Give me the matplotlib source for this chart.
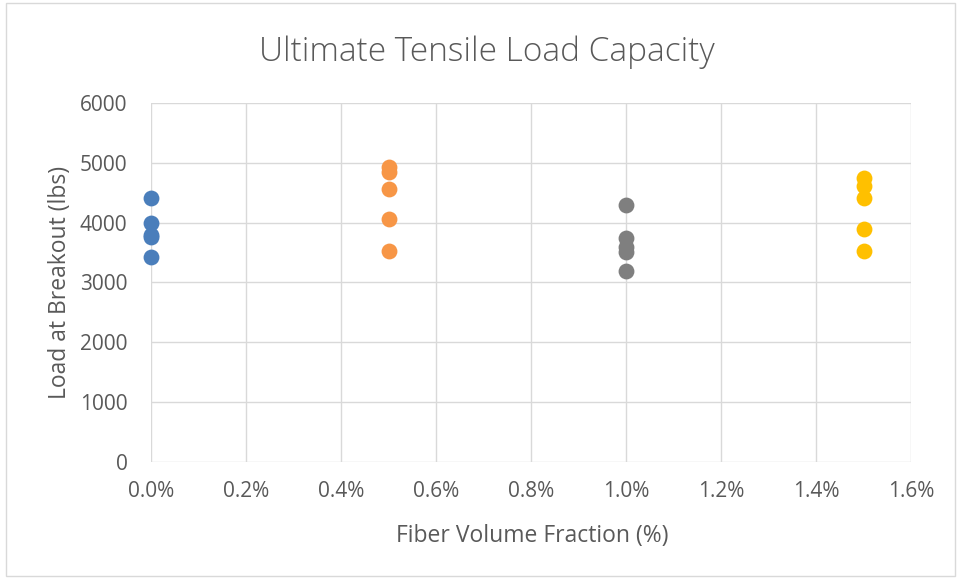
import matplotlib.pyplot as plt
from matplotlib.patches import Rectangle
from matplotlib.ticker import FuncFormatter

plt.rcParams['font.family'] = ['Open Sans', 'DejaVu Sans']

# fiber volume fraction (%) and load at breakout (lbs) per group
frac_0 = [0.0] * 5
load_0 = [4420, 4000, 3790, 3760, 3420]
frac_05 = [0.5] * 5
load_05 = [4930, 4850, 4560, 4060, 3530]
frac_10 = [1.0] * 5
load_10 = [4290, 3740, 3600, 3510, 3190]
frac_15 = [1.5] * 5
load_15 = [4740, 4610, 4420, 3890, 3530]

colors = ['#4A7EBB', '#F79646', '#7F7F7F', '#FFC000']
text_col = '#595959'

fig = plt.figure(figsize=(9.59, 5.78), dpi=100)
ax = fig.add_axes([0.1575, 0.2007, 0.7925, 0.6211])

groups = [(frac_0, load_0), (frac_05, load_05), (frac_10, load_10), (frac_15, load_15)]
for (x, y), c in zip(groups, colors):
    ax.scatter(x, y, s=130, color=c, zorder=3, linewidths=0, clip_on=False)

ax.set_xlim(0, 1.6)
ax.set_ylim(0, 6000)
ax.set_xticks([0, 0.2, 0.4, 0.6, 0.8, 1.0, 1.2, 1.4, 1.6])
ax.set_yticks(range(0, 6001, 1000))
ax.xaxis.set_major_formatter(FuncFormatter(lambda v, p: f'{v:.1f}%'))
ax.grid(True, color='#D9D9D9', linewidth=1)
ax.set_axisbelow(True)
for s in ax.spines.values():
    s.set_visible(False)
ax.tick_params(length=0, labelsize=15, labelcolor=text_col)
ax.tick_params(axis='x', pad=14)
ax.tick_params(axis='y', pad=17)

fig.text(0.508, 0.91, 'Ultimate Tensile Load Capacity', fontsize=24, color=text_col,
         fontweight='light', ha='center', va='center')
fig.text(0.555, 0.072, 'Fiber Volume Fraction (%)', fontsize=16.5, color=text_col,
         ha='center', va='center')
fig.text(0.0626, 0.511, 'Load at Breakout (lbs)', fontsize=16.5, color=text_col,
         rotation=90, ha='center', va='center')

fig.patches.append(Rectangle((0.006, 0.004), 0.99, 0.99, transform=fig.transFigure,
                             fill=False, edgecolor='#D9D9D9', linewidth=1))

plt.savefig('out.png', dpi=100)
